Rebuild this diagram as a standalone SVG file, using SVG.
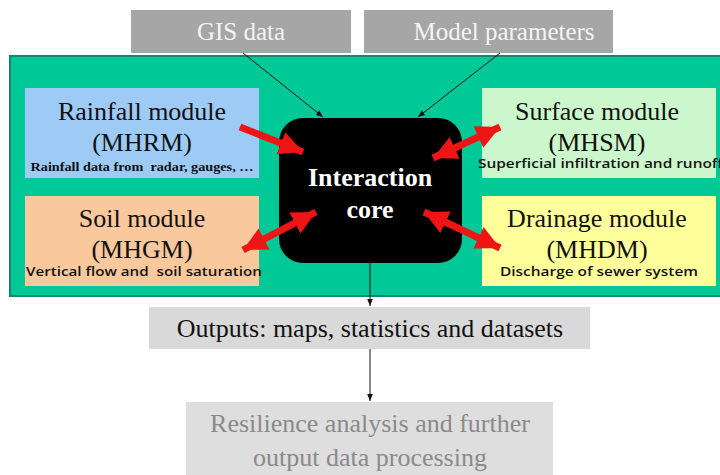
<svg xmlns="http://www.w3.org/2000/svg" width="720" height="475" viewBox="0 0 720 475">
<style>
.serif{font-family:"Liberation Serif","Times New Roman",serif;}
.sans{font-family:"Open Sans","DejaVu Sans",sans-serif;font-weight:600;white-space:pre;}
.title{font-size:26px;fill:#111;text-anchor:middle;}
.gray{fill:#a6a6a6;}
.thin{stroke:#111;stroke-width:1;fill:none;}
.red{stroke:#f01515;stroke-width:7;fill:none;}
</style>
<defs>
<marker id="ah" viewBox="0 0 10 10" refX="10" refY="5" markerWidth="7" markerHeight="7" markerUnits="userSpaceOnUse" orient="auto"><path d="M0,1 L10,5 L0,9 z" fill="#111"/></marker>
<marker id="rh" viewBox="0 0 10 10" refX="10" refY="5" markerWidth="3.4" markerHeight="3.6" orient="auto-start-reverse"><path d="M0,0 L10,5 L0,10 z" fill="#f01515"/></marker>
</defs>
<rect width="720" height="475" fill="#fff"/>
<g id="gis"><rect class="gray" x="131" y="10" width="220" height="43"/><text class="serif" x="241" y="40" font-size="25" fill="#f4f4f4" text-anchor="middle">GIS data</text></g>
<g id="params"><rect class="gray" x="364" y="10" width="249" height="43"/><text class="serif" x="504" y="40" font-size="25" fill="#f4f4f4" text-anchor="middle">Model parameters</text></g>
<g id="panel"><rect x="10" y="56" width="716" height="240" fill="#00c896" stroke="#0b8a6c" stroke-width="2"/></g>
<g id="rainfall"><rect x="25" y="88" width="234" height="90" fill="#9ecbf6"/>
<text class="serif title" x="142" y="120">Rainfall module</text>
<text class="serif title" x="142" y="151">(MHRM)</text>
<text class="serif" x="142" y="171" font-size="12" font-weight="bold" text-anchor="middle" fill="#111" textLength="223" lengthAdjust="spacingAndGlyphs" style="white-space:pre">Rainfall data from  radar, gauges, …</text></g>
<g id="soil"><rect x="25" y="196" width="234" height="90" fill="#f9c89c"/>
<text class="serif title" x="142" y="227">Soil module</text>
<text class="serif title" x="142" y="258">(MHGM)</text>
<text class="sans" x="144" y="276" font-size="12.5" text-anchor="middle" fill="#111" textLength="236" lengthAdjust="spacingAndGlyphs">Vertical flow and  soil saturation</text></g>
<g id="surface"><rect x="482" y="88" width="234" height="90" fill="#ccf7cc"/>
<text class="serif title" x="597" y="120">Surface module</text>
<text class="serif title" x="597" y="151">(MHSM)</text>
<text class="sans" x="478" y="168" font-size="12.5" fill="#111" textLength="245" lengthAdjust="spacingAndGlyphs">Superficial infiltration and runoff</text></g>
<g id="drainage"><rect x="482" y="196" width="234" height="90" fill="#ffff9c"/>
<text class="serif title" x="597" y="227">Drainage module</text>
<text class="serif title" x="597" y="258">(MHDM)</text>
<text class="sans" x="599" y="276" font-size="12.5" text-anchor="middle" fill="#111" textLength="198" lengthAdjust="spacingAndGlyphs">Discharge of sewer system</text></g>
<g id="core"><rect x="279" y="118" width="183" height="145" rx="24" fill="#000"/>
<text class="serif" x="370" y="186" font-size="26" font-weight="bold" fill="#fff" text-anchor="middle">Interaction</text>
<text class="serif" x="370" y="218" font-size="26" font-weight="bold" fill="#fff" text-anchor="middle">core</text></g>
<g id="outputs"><rect x="149" y="307" width="441" height="42" fill="#d9d9d9"/>
<text class="serif" x="370" y="337" font-size="26" fill="#111" text-anchor="middle">Outputs: maps, statistics and datasets</text></g>
<g id="resilience"><rect x="186" y="402" width="367" height="73" fill="#dedede"/>
<text class="serif" x="370" y="432" font-size="26" fill="#8a8a8a" text-anchor="middle">Resilience analysis and further</text>
<text class="serif" x="370" y="466" font-size="26" fill="#8a8a8a" text-anchor="middle">output data processing</text></g>
<g id="connectors">
<line class="thin" x1="243" y1="53" x2="323" y2="117" marker-end="url(#ah)"/>
<line class="thin" x1="500" y1="53" x2="418" y2="117" marker-end="url(#ah)"/>
<line class="thin" x1="370" y1="263" x2="370" y2="306" marker-end="url(#ah)"/>
<line class="thin" x1="370" y1="349" x2="370" y2="401" marker-end="url(#ah)"/>
<line class="red" x1="240" y1="127" x2="303" y2="152" marker-end="url(#rh)"/>
<line class="red" x1="243" y1="250" x2="316" y2="212" marker-start="url(#rh)" marker-end="url(#rh)"/>
<line class="red" x1="433" y1="158" x2="500" y2="127" marker-start="url(#rh)" marker-end="url(#rh)"/>
<line class="red" x1="424" y1="212" x2="500" y2="248" marker-start="url(#rh)" marker-end="url(#rh)"/>
</g>
</svg>
